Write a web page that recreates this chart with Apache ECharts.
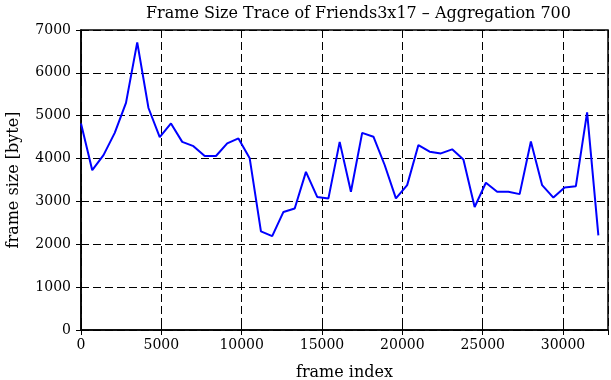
<!DOCTYPE html>
<html>
<head>
<meta charset="utf-8">
<script src="https://cdn.jsdelivr.net/npm/echarts@6/dist/echarts.min.js"></script>
<style>
  html, body { margin: 0; padding: 0; background: #fff; }
  #chart { width: 611px; height: 380px; }
</style>
</head>
<body>
<div id="chart"></div>
<script>
// frame index of each aggregated point (every 700 frames)
const frameIndex = [
  0, 700, 1400, 2100, 2800, 3500, 4200, 4900, 5600, 6300,
  7000, 7700, 8400, 9100, 9800, 10500, 11200, 11900, 12600, 13300,
  14000, 14700, 15400, 16100, 16800, 17500, 18200, 18900, 19600, 20300,
  21000, 21700, 22400, 23100, 23800, 24500, 25200, 25900, 26600, 27300,
  28000, 28700, 29400, 30100, 30800, 31500, 32200
]
// mean frame size in bytes
const frameSize = [
  4820, 3730, 4080, 4600, 5300, 6710, 5180, 4500, 4820, 4390,
  4290, 4060, 4060, 4355, 4470, 4005, 2300, 2190, 2755, 2835,
  3690, 3105, 3070, 4390, 3225, 4600, 4510, 3850, 3070, 3380,
  4315, 4160, 4120, 4215, 3980, 2870, 3435, 3225, 3225, 3170,
  4400, 3380, 3090, 3325, 3355, 5080, 2210
]

const serif = 'DejaVu Serif'
const fs = 14      // tick labels
const fsName = 16  // title and axis names
const chart = echarts.init(document.getElementById('chart'), null, { renderer: 'canvas' })

const dashed = { color: '#000', width: 1, type: [8, 4] }
const plain = v => String(v)

chart.setOption({
  backgroundColor: '#fff',
  animation: false,
  title: {
    text: 'Frame Size Trace of Friends3x17 \u2013 Aggregation 700',
    left: 141,
    top: 1,
    textStyle: { fontFamily: serif, fontSize: fsName, fontWeight: 'normal', color: '#000' }
  },
  grid: {
    left: 81, right: 3, top: 30, bottom: 50,
    containLabel: false,
    outerBoundsMode: 'none',
    show: true, borderColor: '#000', borderWidth: 1.5, backgroundColor: 'transparent'
  },
  xAxis: [
    {
      type: 'value',
      min: 0, max: 32800, interval: 5000,
      name: 'frame index',
      nameLocation: 'middle',
      nameGap: 35,
      nameTextStyle: { fontFamily: serif, fontSize: fsName, color: '#000' },
      axisLine: { show: true, lineStyle: { color: '#000', width: 1.5 } },
      axisTick: { show: true, inside: true, length: 5, lineStyle: { color: '#000' } },
      axisLabel: { fontFamily: serif, fontSize: fs, color: '#000', margin: 8, showMaxLabel: false, formatter: plain },
      splitLine: { show: true, lineStyle: dashed }
    },
    {
      type: 'value',
      position: 'top',
      min: 0, max: 32800, interval: 5000,
      axisLine: { show: false },
      axisTick: { show: true, inside: true, length: 5, lineStyle: { color: '#000' } },
      axisLabel: { show: false },
      splitLine: { show: false }
    }
  ],
  yAxis: [
    {
      type: 'value',
      min: 0, max: 7000, interval: 1000,
      name: 'frame size [byte]',
      nameLocation: 'middle',
      nameGap: 59,
      nameTextStyle: { fontFamily: serif, fontSize: fsName, color: '#000' },
      axisLine: { show: true, lineStyle: { color: '#000', width: 1.5 } },
      axisTick: { show: true, inside: true, length: 5, lineStyle: { color: '#000' } },
      axisLabel: { fontFamily: serif, fontSize: fs, color: '#000', margin: 10, formatter: plain },
      splitLine: { show: true, lineStyle: dashed }
    },
    {
      type: 'value',
      position: 'right',
      min: 0, max: 7000, interval: 1000,
      axisLine: { show: false },
      axisTick: { show: true, inside: true, length: 5, lineStyle: { color: '#000' } },
      axisLabel: { show: false },
      splitLine: { show: false }
    }
  ],
  series: [
    {
      type: 'line',
      showSymbol: false,
      lineStyle: { color: '#0000ff', width: 2 },
      data: frameIndex.map((f, i) => [f, frameSize[i]])
    }
  ]
})
</script>
</body>
</html>
